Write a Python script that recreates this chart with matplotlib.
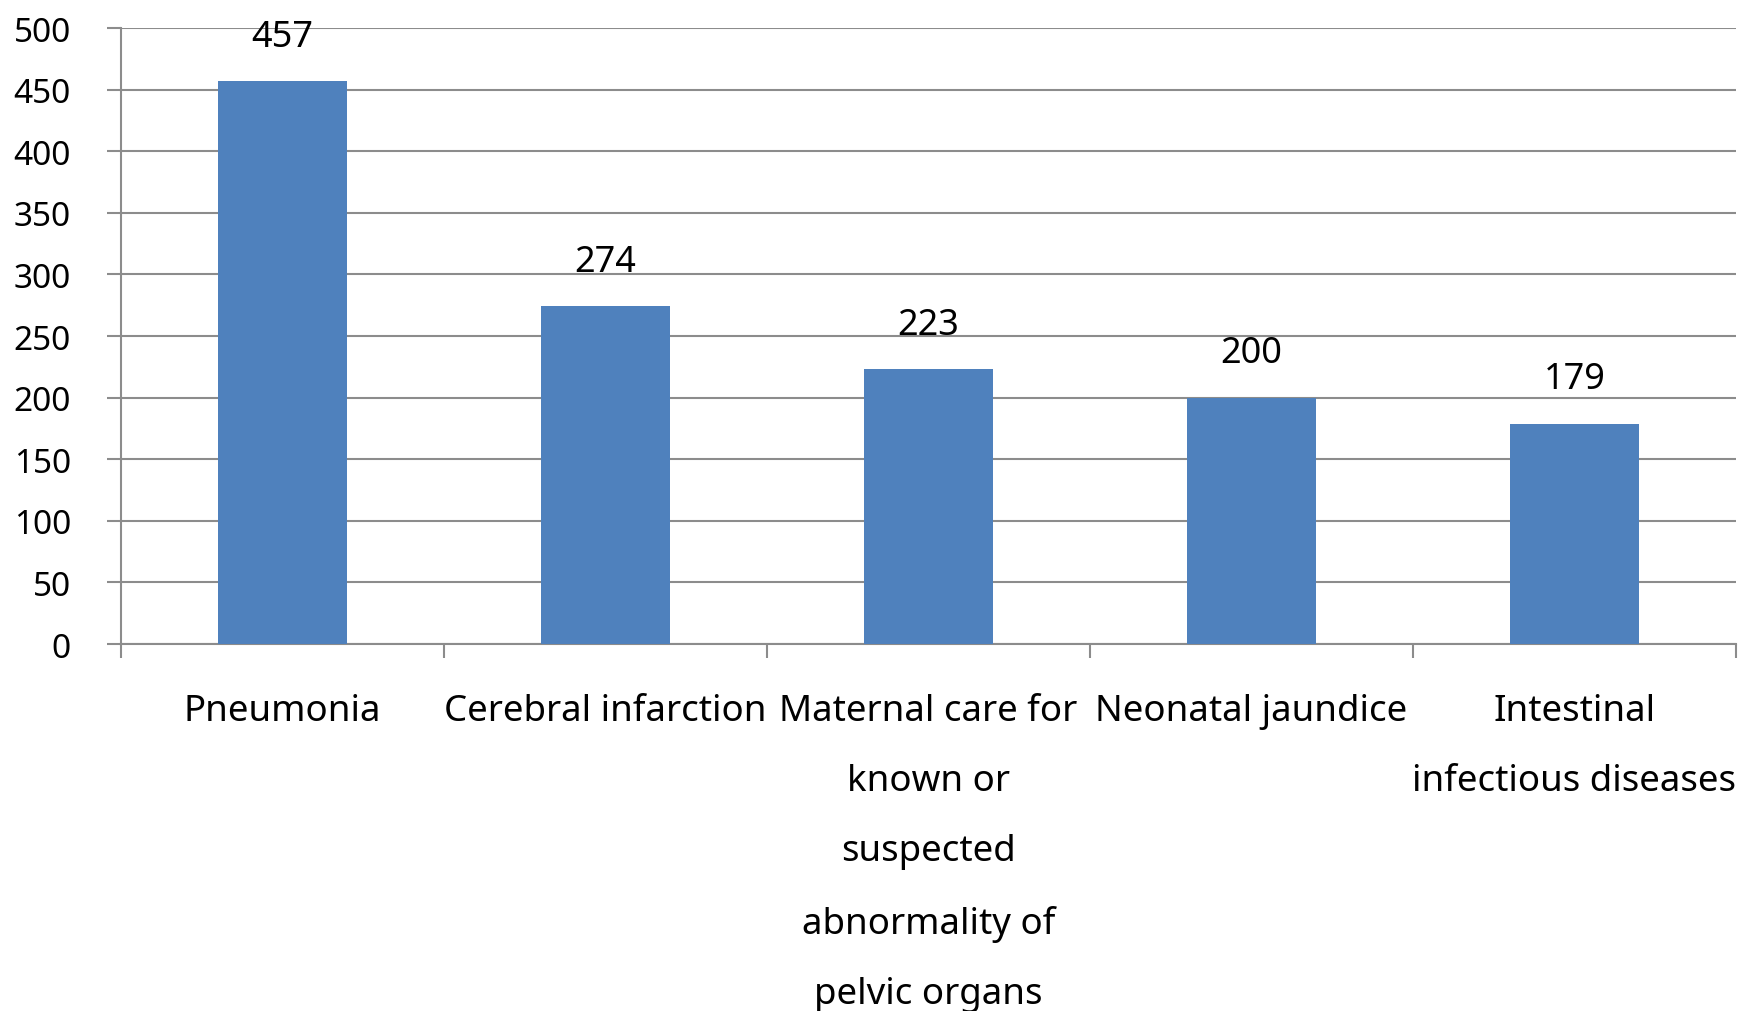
import matplotlib
matplotlib.use('Agg')
import matplotlib.pyplot as plt

categories = ["Pneumonia", "Cerebral infarction",
              "Maternal care for\nknown or\nsuspected\nabnormality of\npelvic organs",
              "Neonatal jaundice", "Intestinal\ninfectious diseases"]
values = [457, 274, 223, 200, 179]
y_ticks = [0, 50, 100, 150, 200, 250, 300, 350, 400, 450, 500]

plt.rcParams['font.family'] = ['Noto Sans', 'DejaVu Sans']

fig = plt.figure(figsize=(17.5, 10.12), dpi=100)
ax = fig.add_axes([0.0691, 0.3626, 0.9229, 0.6087])

grid_col = '#8c8c8c'
x = range(len(values))
ax.bar(x, values, width=0.4, color='#4f81bd', zorder=3)

# value labels above each bar
for xi, v in zip(x, values):
    ax.annotate(str(v), (xi, v), xytext=(0, 32), textcoords='offset points',
                ha='center', va='center', fontsize=26)

ax.set_xlim(-0.5, len(values) - 0.5)
ax.set_ylim(0, 500)
ax.set_yticks(y_ticks)
ax.yaxis.grid(True, color=grid_col, linewidth=1.5, zorder=0)

# ticks on category borders, labels in between
ax.set_xticks([i - 0.5 for i in range(len(values) + 1)])
ax.set_xticklabels([])
ax.set_xticks(list(x), minor=True)
ax.set_xticklabels(categories, minor=True, fontsize=26.4, linespacing=2.26)
ax.tick_params(axis='x', which='minor', length=0, pad=35.5)
ax.tick_params(axis='x', which='major', length=10, width=1.5, color=grid_col)
ax.tick_params(axis='y', length=10, width=1.5, color=grid_col, labelsize=24, pad=26)

for s in ['top', 'right']:
    ax.spines[s].set_visible(False)
for s in ['left', 'bottom']:
    ax.spines[s].set_color(grid_col)
    ax.spines[s].set_linewidth(1.5)

fig.savefig('out.png', dpi=100)
